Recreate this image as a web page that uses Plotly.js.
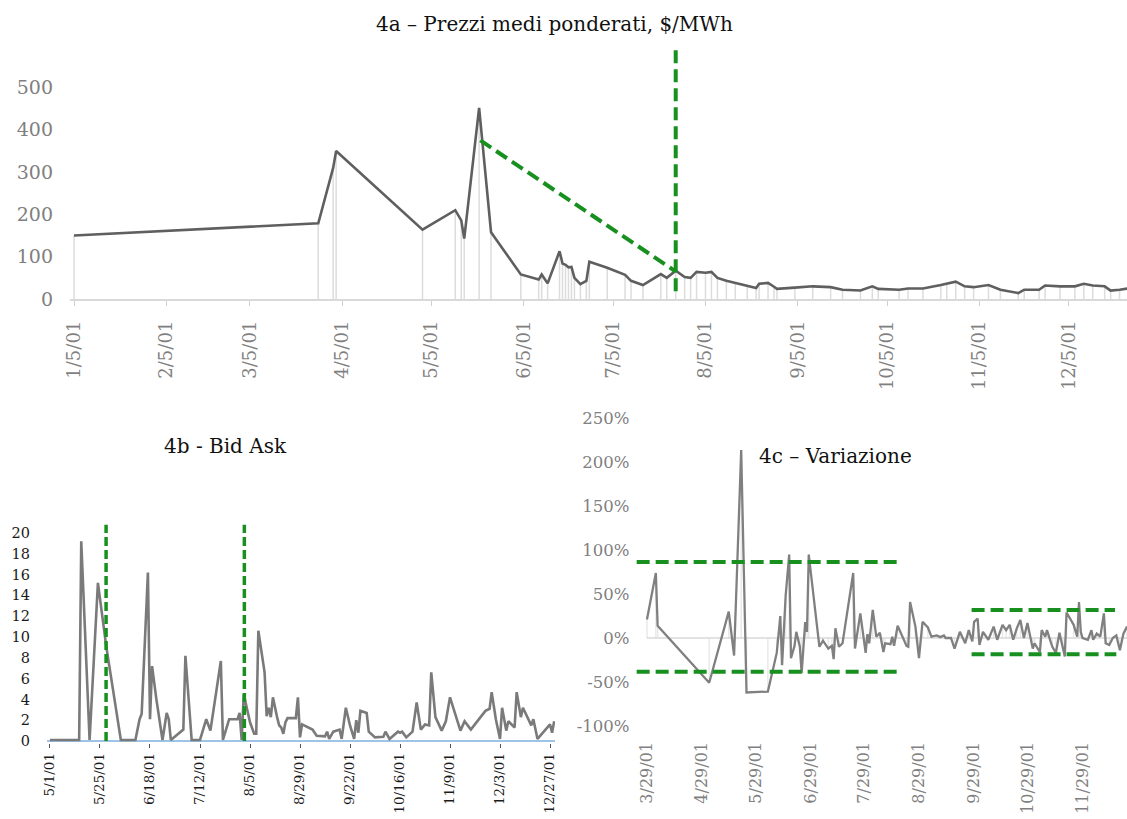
<!DOCTYPE html>
<html>
<head>
<meta charset="utf-8">
<script src="https://cdn.plot.ly/plotly-3.0.1.min.js"></script>
<style>
  html, body { margin: 0; padding: 0; background: #ffffff; }
  #chart { width: 1127px; height: 819px; }
</style>
</head>
<body>
<div id="chart"></div>
<script>
// ---------- 4a – Prezzi medi ponderati ($/MWh) ----------
const dates4a = [
  '2001-01-05','2001-03-28','2001-04-02','2001-04-03','2001-05-02','2001-05-13','2001-05-15','2001-05-16',
  '2001-05-21','2001-05-25','2001-06-04','2001-06-10','2001-06-11','2001-06-13','2001-06-17','2001-06-18',
  '2001-06-19','2001-06-20','2001-06-21','2001-06-22','2001-06-24','2001-06-26','2001-06-27','2001-07-03',
  '2001-07-09','2001-07-11','2001-07-15','2001-07-21','2001-07-23','2001-07-26','2001-07-29','2001-07-31',
  '2001-08-02','2001-08-05','2001-08-07','2001-08-09','2001-08-12','2001-08-15','2001-08-19','2001-08-22',
  '2001-08-23','2001-08-26','2001-08-28','2001-08-29','2001-09-04','2001-09-10','2001-09-16','2001-09-20',
  '2001-09-26','2001-09-30','2001-10-02','2001-10-09','2001-10-12','2001-10-17','2001-10-23','2001-10-25',
  '2001-10-28','2001-10-31','2001-11-03','2001-11-08','2001-11-12','2001-11-18','2001-11-20','2001-11-25',
  '2001-11-27','2001-12-02','2001-12-07','2001-12-10','2001-12-13','2001-12-17','2001-12-19','2001-12-22',
  '2001-12-25'
];
const prices4a = [
  150, 179, 310, 350, 164, 210, 186, 143,
  452, 158, 58, 46, 58, 37, 113, 84,
  81, 75, 76, 50, 35, 43, 88, 74,
  57, 43, 33, 59, 50, 67, 52, 50,
  64, 62, 64, 50, 43, 38, 31, 26,
  36, 38, 29, 24, 27, 30, 28, 22,
  20, 30, 24, 22, 25, 25, 33, 36,
  41, 30, 28, 33, 22, 14, 22, 22,
  32, 30, 30, 36, 32, 30, 20, 22,
  25
];
const yTicks4a = [0, 100, 200, 300, 400, 500];
const yTickText4a = ['0', '100', '200', '300', '400', '500'];
// green guide lines drawn on 4a (data units)
const trend4aX = ['2001-05-21 10:00', '2001-07-26 00:00'];
const trend4aY = [375, 65];
const mark4aX = ['2001-07-26 00:00', '2001-07-26 00:00'];
const mark4aY = [588, 8];

// ---------- 4b - Bid Ask ----------
const dates4b = [
  '2001-05-01','2001-05-15','2001-05-16','2001-05-20','2001-05-24','2001-05-28','2001-06-04','2001-06-11',
  '2001-06-13','2001-06-14','2001-06-17','2001-06-18','2001-06-19','2001-06-21','2001-06-24','2001-06-26',
  '2001-06-27','2001-06-28','2001-07-04','2001-07-05','2001-07-08','2001-07-12','2001-07-15','2001-07-17',
  '2001-07-22','2001-07-23','2001-07-26','2001-07-30','2001-07-31','2001-08-01','2001-08-02','2001-08-05',
  '2001-08-07','2001-08-08','2001-08-09','2001-08-12','2001-08-13','2001-08-14','2001-08-15','2001-08-16',
  '2001-08-18','2001-08-19','2001-08-20','2001-08-21','2001-08-22','2001-08-23','2001-08-27','2001-08-28',
  '2001-08-29','2001-08-30','2001-09-04','2001-09-06','2001-09-10','2001-09-11','2001-09-12','2001-09-14',
  '2001-09-17','2001-09-18','2001-09-20','2001-09-22','2001-09-24','2001-09-25','2001-09-26','2001-09-27',
  '2001-09-30','2001-10-01','2001-10-04','2001-10-08','2001-10-09','2001-10-11','2001-10-15','2001-10-16',
  '2001-10-17','2001-10-19','2001-10-22','2001-10-24','2001-10-26','2001-10-28','2001-10-30','2001-10-31',
  '2001-11-02','2001-11-05','2001-11-07','2001-11-09','2001-11-14','2001-11-16','2001-11-19','2001-11-26',
  '2001-11-28','2001-11-29','2001-12-01','2001-12-03','2001-12-04','2001-12-06','2001-12-07','2001-12-10',
  '2001-12-11','2001-12-13','2001-12-14','2001-12-18','2001-12-19','2001-12-21','2001-12-27','2001-12-28',
  '2001-12-29'
];
const bidAsk4b = [
  0.1, 0.1, 19.2, 0.1, 15.2, 9.1, 0.1, 0.1,
  2.1, 2.6, 16.2, 2.1, 7.2, 4.1, 0.1, 2.7,
  2.1, 0.1, 1.1, 8.2, 0.1, 0.1, 2.1, 1.0,
  7.7, 0.1, 2.1, 2.1, 2.7, 0.1, 4.5, 1.8,
  0.7, 0.7, 10.6, 6.6, 2.4, 3.2, 2.3, 4.2,
  2.3, 1.5, 1.3, 0.7, 1.8, 2.2, 2.2, 4.2,
  0.35, 1.6, 1.1, 0.5, 0.45, 0.9, 0.2, 0.9,
  1.1, 0.2, 3.2, 1.5, 0.2, 2.0, 0.8, 2.9,
  2.7, 0.9, 0.35, 0.4, 0.9, 0.2, 0.9, 0.8,
  0.9, 0.35, 0.9, 3.7, 1.1, 1.6, 1.5, 6.6,
  2.3, 1.0, 1.9, 4.2, 1.0, 1.9, 1.1, 2.9,
  3.1, 4.7, 2.1, 0.2, 3.2, 1.0, 1.9, 1.3,
  4.7, 2.3, 3.2, 1.5, 2.1, 0.2, 1.6, 0.8,
  1.9
];
const yTicks4b = [0, 2, 4, 6, 8, 10, 12, 14, 16, 18, 20];
const yTickText4b = ['0', '2', '4', '6', '8', '10', '12', '14', '16', '18', '20'];
const marks4bX = ['2001-05-27 22:00', '2001-08-02 07:00'];
const marks4bTop = 20.8;

// ---------- 4c – Variazione (%) ----------
const dates4c = [
  '2001-03-29','2001-04-03','2001-04-04','2001-05-03','2001-05-14','2001-05-17','2001-05-21','2001-05-24',
  '2001-06-05','2001-06-10','2001-06-12','2001-06-13','2001-06-15','2001-06-17','2001-06-18','2001-06-20',
  '2001-06-21','2001-06-23','2001-06-24','2001-06-26','2001-06-27','2001-06-28','2001-07-04','2001-07-06',
  '2001-07-09','2001-07-11','2001-07-12','2001-07-13','2001-07-15','2001-07-17','2001-07-23','2001-07-24',
  '2001-07-27','2001-07-30','2001-07-31','2001-08-01','2001-08-03','2001-08-05','2001-08-07','2001-08-09',
  '2001-08-10','2001-08-13','2001-08-14','2001-08-15','2001-08-17','2001-08-20','2001-08-22','2001-08-23',
  '2001-08-24','2001-08-27','2001-08-29','2001-08-31','2001-09-03','2001-09-05','2001-09-08','2001-09-10',
  '2001-09-12','2001-09-13','2001-09-16','2001-09-18','2001-09-21','2001-09-24','2001-09-26','2001-09-28',
  '2001-09-29','2001-10-01','2001-10-02','2001-10-04','2001-10-07','2001-10-10','2001-10-12','2001-10-15',
  '2001-10-17','2001-10-19','2001-10-21','2001-10-23','2001-10-25','2001-10-27','2001-10-29','2001-11-01',
  '2001-11-02','2001-11-05','2001-11-06','2001-11-08','2001-11-09','2001-11-11','2001-11-12','2001-11-14',
  '2001-11-16','2001-11-18','2001-11-19','2001-11-20','2001-11-24','2001-11-26','2001-11-27','2001-11-28',
  '2001-11-29','2001-12-02','2001-12-04','2001-12-05','2001-12-07','2001-12-09','2001-12-11','2001-12-12',
  '2001-12-14','2001-12-16','2001-12-18','2001-12-20','2001-12-22','2001-12-24'
];
const change4c = [
  21, 74, 14, -51, 30, -20, 214, -62,
  -61, -17, 25, -31, 48, 95, -23, -9,
  7, -10, -40, 18, 7, 95, -10, -3,
  -12, -9, -24, 11, -10, -6, 74, -12,
  28, -17, 4.5, -6, 32, 1.5, 6, -16,
  -6, -7, 1.5, -9, 14, 1, -9, -10,
  41, 13, -23, 18.5, 12, 1.5, 3, 1,
  3, 0, 0, -12, 7, -6, 9, -4,
  18.5, 22, -8, 7, -2, 13, -2, 15,
  9, 15, -2, 11, 20.5, 0, 17, -12,
  -6, -16, 9, 1.5, 9, -4, -10, -17,
  6, -12, -21, 29, 15, 1.5, 41, 7,
  0, -2, 9, -2, 5, 1.5, 28, -6,
  -8, 0, 3, -14, 5, 13
];
const xTicks4c = ['2001-03-29', '2001-04-29', '2001-05-29', '2001-06-29', '2001-07-29',
                  '2001-08-29', '2001-09-29', '2001-10-29', '2001-11-29'];
const xTickText4c = ['3/29/01', '4/29/01', '5/29/01', '6/29/01', '7/29/01',
                     '8/29/01', '9/29/01', '10/29/01', '11/29/01'];
const yTicks4c = [-100, -50, 0, 50, 100, 150, 200, 250];
const yTickText4c = ['-100%', '-50%', '0%', '50%', '100%', '150%', '200%', '250%'];
// channel guides on 4c (percent units)
const bandLeftX = ['2001-03-23 05:00', '2001-08-19 08:00'];
const bandLeftLowX = ['2001-03-23 05:00', '2001-08-17 08:00'];
const bandLeftUpper = 86.5;
const bandLeftLower = -38.5;
const bandRightX = ['2001-09-27 14:00', '2001-12-17 06:00'];
const bandRightLowX = ['2001-09-27 14:00', '2001-12-18 00:00'];
const bandRightUpper = 32;
const bandRightLower = -18.5;

// ---------- styling ----------
const SERIF = "'DejaVu Serif', 'Liberation Serif', serif";
const GREEN = '#17901f';
const DAY = 86400000;

const traces = [
  // 4a
  { type: 'bar', x: dates4a, y: prices4a, xaxis: 'x', yaxis: 'y',
    width: 0.5 * DAY, marker: { color: '#dcdcdc', line: { width: 0 } }, hoverinfo: 'skip' },
  { type: 'scatter', mode: 'lines', x: dates4a, y: prices4a, xaxis: 'x', yaxis: 'y',
    line: { color: '#5f5f5f', width: 2.6 } },
  { type: 'scatter', mode: 'lines', x: trend4aX, y: trend4aY, xaxis: 'x', yaxis: 'y',
    line: { color: GREEN, width: 4, dash: '13px,6px' } },
  { type: 'scatter', mode: 'lines', x: mark4aX, y: mark4aY, xaxis: 'x', yaxis: 'y',
    line: { color: GREEN, width: 4, dash: '13px,6px' } },
  // 4b
  { type: 'scatter', mode: 'lines', x: dates4b, y: bidAsk4b, xaxis: 'x2', yaxis: 'y2',
    line: { color: '#7a7a7a', width: 2.6 } },
  { type: 'scatter', mode: 'lines', x: [marks4bX[0], marks4bX[0]], y: [0, marks4bTop], xaxis: 'x2', yaxis: 'y2',
    line: { color: GREEN, width: 3.5, dash: '9px,4px' } },
  { type: 'scatter', mode: 'lines', x: [marks4bX[1], marks4bX[1]], y: [0, marks4bTop], xaxis: 'x2', yaxis: 'y2',
    line: { color: GREEN, width: 3.5, dash: '9px,4px' } },
  // 4c
  { type: 'scatter', mode: 'lines', x: [dates4c[0], dates4c[dates4c.length - 1]], y: [0, 0], xaxis: 'x3', yaxis: 'y3',
    line: { color: '#d9d9d9', width: 1.5 }, hoverinfo: 'skip' },
  { type: 'bar', x: dates4c, y: change4c, xaxis: 'x3', yaxis: 'y3',
    width: 0.8 * DAY, marker: { color: '#e8e8e8', line: { width: 0 } }, hoverinfo: 'skip' },
  { type: 'scatter', mode: 'lines', x: dates4c, y: change4c, xaxis: 'x3', yaxis: 'y3',
    line: { color: '#808080', width: 2.3 } },
  { type: 'scatter', mode: 'lines', x: bandLeftX, y: [bandLeftUpper, bandLeftUpper], xaxis: 'x3', yaxis: 'y3',
    line: { color: GREEN, width: 4, dash: '13px,6px' } },
  { type: 'scatter', mode: 'lines', x: bandLeftLowX, y: [bandLeftLower, bandLeftLower], xaxis: 'x3', yaxis: 'y3',
    line: { color: GREEN, width: 4, dash: '13px,6px' } },
  { type: 'scatter', mode: 'lines', x: bandRightX, y: [bandRightUpper, bandRightUpper], xaxis: 'x3', yaxis: 'y3',
    line: { color: GREEN, width: 4, dash: '13px,6px' } },
  { type: 'scatter', mode: 'lines', x: bandRightLowX, y: [bandRightLower, bandRightLower], xaxis: 'x3', yaxis: 'y3',
    line: { color: GREEN, width: 4, dash: '13px,6px' } }
];

const layout = {
  width: 1127, height: 819,
  margin: { l: 0, r: 0, t: 0, b: 0 },
  paper_bgcolor: '#ffffff', plot_bgcolor: 'rgba(0,0,0,0)',
  showlegend: false, barmode: 'overlay', hovermode: false,
  font: { family: SERIF, color: '#7f7f7f' },
  // 4a axes
  xaxis: {
    domain: [0.0621, 1], anchor: 'y', type: 'date',
    range: ['2001-01-03 15:36', '2001-12-24 12:00'],
    tick0: '2001-01-05', dtick: 'M1', tickformat: '%-m/%-d/%y',
    tickangle: -90, tickfont: { family: SERIF, size: 18, color: '#7f7f7f' },
    showline: true, linecolor: '#d9d9d9', linewidth: 1.5,
    ticks: 'outside', ticklen: 5, tickcolor: '#cfcfcf', ticklabelstandoff: 8,
    showgrid: false, zeroline: false
  },
  yaxis: {
    domain: [0.6349, 0.9422], anchor: 'x', range: [0, 595],
    tickmode: 'array', tickvals: yTicks4a, ticktext: yTickText4a,
    tickfont: { family: SERIF, size: 19, color: '#7f7f7f' },
    showgrid: false, zeroline: false, showline: false, ticks: '', ticklabelstandoff: 16
  },
  // 4b axes
  xaxis2: {
    domain: [0.0417, 0.4925], anchor: 'y2', type: 'date',
    range: ['2001-04-29 13:26', '2001-12-29 10:00'],
    tick0: '2001-05-01', dtick: 24 * DAY, tickformat: '%-m/%-d/%y',
    tickangle: -90, tickfont: { family: SERIF, size: 13.5, color: '#1a1a1a' },
    showline: false, ticks: 'outside', ticklen: 4, tickcolor: '#555555', ticklabelstandoff: 0,
    showgrid: false, zeroline: false
  },
  yaxis2: {
    domain: [0.0933, 0.3619], anchor: 'x2', range: [-0.15, 21],
    tickmode: 'array', tickvals: yTicks4b, ticktext: yTickText4b,
    tickfont: { family: SERIF, size: 14.5, color: '#1a1a1a' },
    showgrid: false, showline: false, ticks: '', ticklabelstandoff: 16,
    zeroline: true, zerolinecolor: '#9dc3e6', zerolinewidth: 1.5
  },
  // 4c axes
  xaxis3: {
    domain: [0.5638, 1], anchor: 'y3', type: 'date',
    range: ['2001-03-22 12:00', '2001-12-24 00:00'],
    tickmode: 'array', tickvals: xTicks4c, ticktext: xTickText4c,
    tickangle: -90, tickfont: { family: SERIF, size: 16, color: '#808080' },
    showline: false, ticks: '', ticklabelstandoff: 12,
    showgrid: false, zeroline: false
  },
  yaxis3: {
    domain: [0.1138, 0.489], anchor: 'x3', range: [-100, 250],
    tickmode: 'array', tickvals: yTicks4c, ticktext: yTickText4c,
    tickfont: { family: SERIF, size: 16.5, color: '#808080' },
    showgrid: false, zeroline: false, showline: false, ticks: '', ticklabelstandoff: 5
  },
  annotations: [
    { text: '4a – Prezzi medi ponderati, $/MWh', xref: 'paper', yref: 'paper',
      x: 554 / 1127, y: (819 - 24) / 819, xanchor: 'center', yanchor: 'middle', showarrow: false,
      font: { family: SERIF, size: 20, color: '#111111' } },
    { text: '4b - Bid Ask', xref: 'paper', yref: 'paper',
      x: 225 / 1127, y: (819 - 446) / 819, xanchor: 'center', yanchor: 'middle', showarrow: false,
      font: { family: SERIF, size: 20, color: '#111111' } },
    { text: '4c – Variazione', xref: 'paper', yref: 'paper',
      x: 835 / 1127, y: (819 - 456) / 819, xanchor: 'center', yanchor: 'middle', showarrow: false,
      font: { family: SERIF, size: 20, color: '#111111' } }
  ]
};

Plotly.newPlot('chart', traces, layout, { staticPlot: true, displayModeBar: false });
</script>
</body>
</html>
